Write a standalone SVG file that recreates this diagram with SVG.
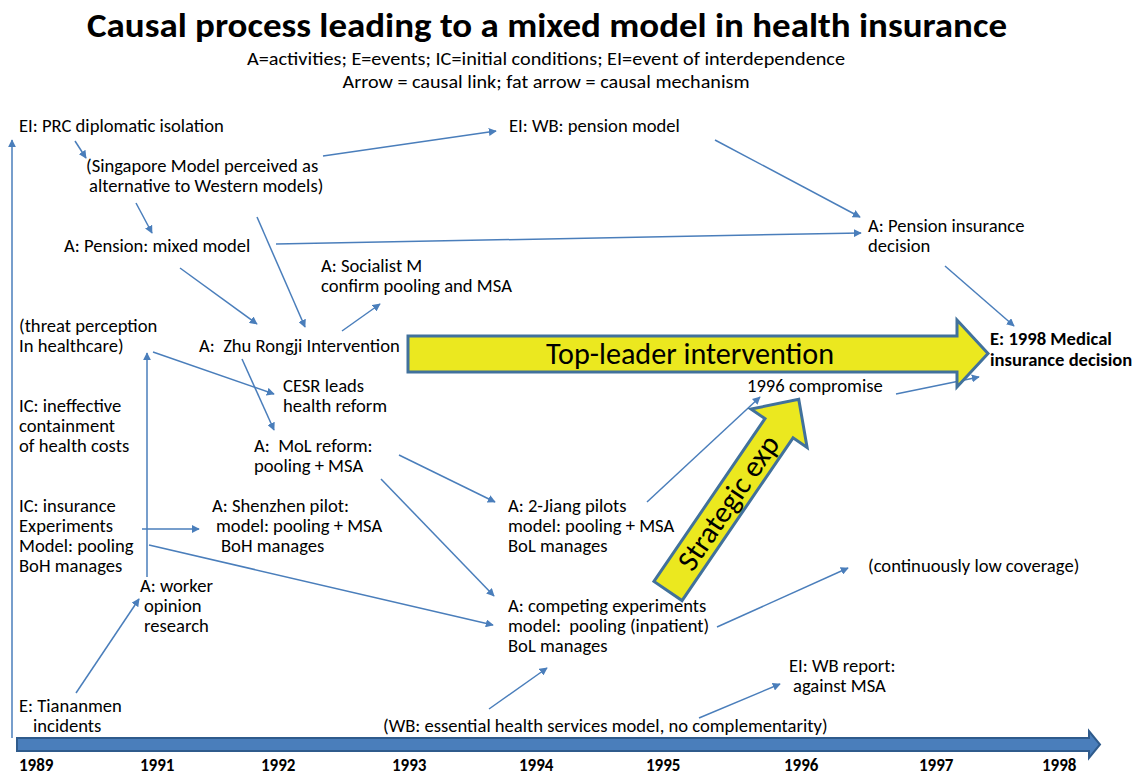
<svg xmlns="http://www.w3.org/2000/svg" width="1137" height="775" viewBox="0 0 1137 775">
  <style>
    text { font-family: Carlito, Lato, "Open Sans", sans-serif; font-size: 18.6px; fill: #000; }
    .title { font-size: 34px; font-weight: bold; }
    .sub { font-size: 18px; }
    .bold { font-weight: bold; }
    .big { font-size: 30px; }
    .yr { font-weight: bold; font-size: 17px; }
    .link { stroke: #4a7ebb; stroke-width: 1.5; fill: none; marker-end: url(#ah); }
    .fat { fill: #ebe81f; stroke: #41719c; stroke-width: 3; stroke-linejoin: miter; }
  </style>
  <defs>
    <marker id="ah" viewBox="0 0 10 10" refX="9" refY="5" markerWidth="8" markerHeight="8" markerUnits="userSpaceOnUse" orient="auto">
      <path d="M0,0 L10,5 L0,10 z" fill="#4a7ebb"/>
    </marker>
  </defs>

  <!-- heading -->
  <g id="heading">
    <text class="title" x="547" y="37" text-anchor="middle" textLength="920" lengthAdjust="spacingAndGlyphs">Causal process leading to a mixed model in health insurance</text>
    <text class="sub" x="546" y="65" text-anchor="middle" textLength="598" lengthAdjust="spacingAndGlyphs">A=activities; E=events; IC=initial conditions; EI=event of interdependence</text>
    <text class="sub" x="546" y="88" text-anchor="middle" textLength="407" lengthAdjust="spacingAndGlyphs">Arrow = causal link; fat arrow = causal mechanism</text>
  </g>

  <!-- time axis -->
  <g id="timeline">
    <path d="M17,738 L1089,738 L1089,731 L1100,744.5 L1089,758 L1089,751 L17,751 Z" fill="#4a7ebb" stroke="#2f5b8c" stroke-width="2"/>
    <text class="yr" x="19" y="771">1989</text>
    <text class="yr" x="140" y="771">1991</text>
    <text class="yr" x="261" y="771">1992</text>
    <text class="yr" x="392" y="771">1993</text>
    <text class="yr" x="519" y="771">1994</text>
    <text class="yr" x="646" y="771">1995</text>
    <text class="yr" x="784" y="771">1996</text>
    <text class="yr" x="919" y="771">1997</text>
    <text class="yr" x="1042" y="771">1998</text>
  </g>

  <!-- causal links -->
  <g id="connectors">
    <line class="link" x1="12" y1="738" x2="12" y2="140"/>
    <line class="link" x1="147" y1="577" x2="147" y2="353"/>
    <line class="link" x1="75" y1="141" x2="86" y2="158"/>
    <line class="link" x1="323" y1="156" x2="496" y2="131"/>
    <line class="link" x1="136" y1="203" x2="152" y2="233"/>
    <line class="link" x1="257" y1="217" x2="305" y2="327"/>
    <line class="link" x1="180" y1="268" x2="257" y2="324"/>
    <line class="link" x1="276" y1="244" x2="861" y2="233"/>
    <line class="link" x1="715" y1="140" x2="860" y2="217"/>
    <line class="link" x1="945" y1="266" x2="1014" y2="326"/>
    <line class="link" x1="342" y1="331" x2="380" y2="304"/>
    <line class="link" x1="242" y1="359" x2="274" y2="430"/>
    <line class="link" x1="153" y1="352" x2="274" y2="394"/>
    <line class="link" x1="399" y1="455" x2="495" y2="502"/>
    <line class="link" x1="381" y1="479" x2="494" y2="596"/>
    <line class="link" x1="142" y1="529" x2="199" y2="529"/>
    <line class="link" x1="149" y1="545" x2="493" y2="625"/>
    <line class="link" x1="76" y1="693" x2="139" y2="599"/>
    <line class="link" x1="647" y1="502" x2="760" y2="397"/>
    <line class="link" x1="896" y1="394" x2="979" y2="377"/>
    <line class="link" x1="717" y1="627" x2="848" y2="568"/>
    <line class="link" x1="489" y1="709" x2="547" y2="668"/>
    <line class="link" x1="699" y1="718" x2="780" y2="684"/>
  </g>

  <!-- causal mechanisms -->
  <g id="top-leader">
    <path class="fat" d="M408,336 L957,336 L957,320 L988,353.5 L957,387 L957,372 L408,372 Z"/>
    <text class="big" x="690" y="364" text-anchor="middle" textLength="288" lengthAdjust="spacingAndGlyphs">Top-leader intervention</text>
  </g>
  <g id="strategic-exp" transform="translate(668,591) rotate(-55.7)">
    <path class="fat" d="M0,-17 L197,-17 L197,-34 L232,0 L197,34 L197,17 L0,17 Z"/>
    <text class="big" x="107" y="10" text-anchor="middle" textLength="156" lengthAdjust="spacingAndGlyphs">Strategic exp</text>
  </g>

  <g id="prc-isolation"><text x="19" y="132">EI: PRC diplomatic isolation</text></g>
  <g id="singapore-model">
    <text x="86" y="172">(Singapore Model perceived as</text>
    <text x="89" y="192">alternative to Western models)</text>
  </g>
  <g id="wb-pension"><text x="509" y="132">EI: WB: pension model</text></g>
  <g id="pension-mixed"><text x="64" y="252">A: Pension: mixed model</text></g>
  <g id="pension-decision">
    <text x="868" y="232">A: Pension insurance</text>
    <text x="868" y="252">decision</text>
  </g>
  <g id="socialist-m">
    <text x="321" y="272">A: Socialist M</text>
    <text x="321" y="292">confirm pooling and MSA</text>
  </g>
  <g id="threat">
    <text x="19" y="332">(threat perception</text>
    <text x="19" y="352">In healthcare)</text>
  </g>
  <g id="zhu-rongji"><text x="199" y="352" xml:space="preserve">A:  Zhu Rongji Intervention</text></g>
  <g id="medical-decision">
    <text class="bold" x="990" y="345">E: 1998 Medical</text>
    <text class="bold" x="990" y="366">insurance decision</text>
  </g>
  <g id="compromise"><text x="747" y="392">1996 compromise</text></g>
  <g id="cesr">
    <text x="283" y="392">CESR leads</text>
    <text x="283" y="412">health reform</text>
  </g>
  <g id="cost-containment">
    <text x="19" y="412">IC: ineffective</text>
    <text x="19" y="432">containment</text>
    <text x="19" y="452">of health costs</text>
  </g>
  <g id="mol-reform">
    <text x="254" y="452" xml:space="preserve">A:  MoL reform:</text>
    <text x="254" y="472">pooling + MSA</text>
  </g>
  <g id="jiang-pilots">
    <text x="508" y="512">A: 2-Jiang pilots</text>
    <text x="508" y="532">model: pooling + MSA</text>
    <text x="508" y="552">BoL manages</text>
  </g>
  <g id="insurance-experiments">
    <text x="19" y="512">IC: insurance</text>
    <text x="19" y="532">Experiments</text>
    <text x="19" y="552">Model: pooling</text>
    <text x="19" y="572">BoH manages</text>
  </g>
  <g id="shenzhen">
    <text x="212" y="512">A: Shenzhen pilot:</text>
    <text x="216" y="532">model: pooling + MSA</text>
    <text x="221" y="552">BoH manages</text>
  </g>
  <g id="worker-opinion">
    <text x="140" y="592">A: worker</text>
    <text x="144" y="612">opinion</text>
    <text x="144" y="632">research</text>
  </g>
  <g id="low-coverage"><text x="868" y="572">(continuously low coverage)</text></g>
  <g id="competing">
    <text x="508" y="612">A: competing experiments</text>
    <text x="508" y="632" xml:space="preserve">model:  pooling (inpatient)</text>
    <text x="508" y="652">BoL manages</text>
  </g>
  <g id="wb-report">
    <text x="789" y="672">EI: WB report:</text>
    <text x="793" y="692">against MSA</text>
  </g>
  <g id="tiananmen">
    <text x="19" y="712">E: Tiananmen</text>
    <text x="33" y="732">incidents</text>
  </g>
  <g id="wb-essential"><text x="383" y="732">(WB: essential health services model, no complementarity)</text></g>
</svg>
